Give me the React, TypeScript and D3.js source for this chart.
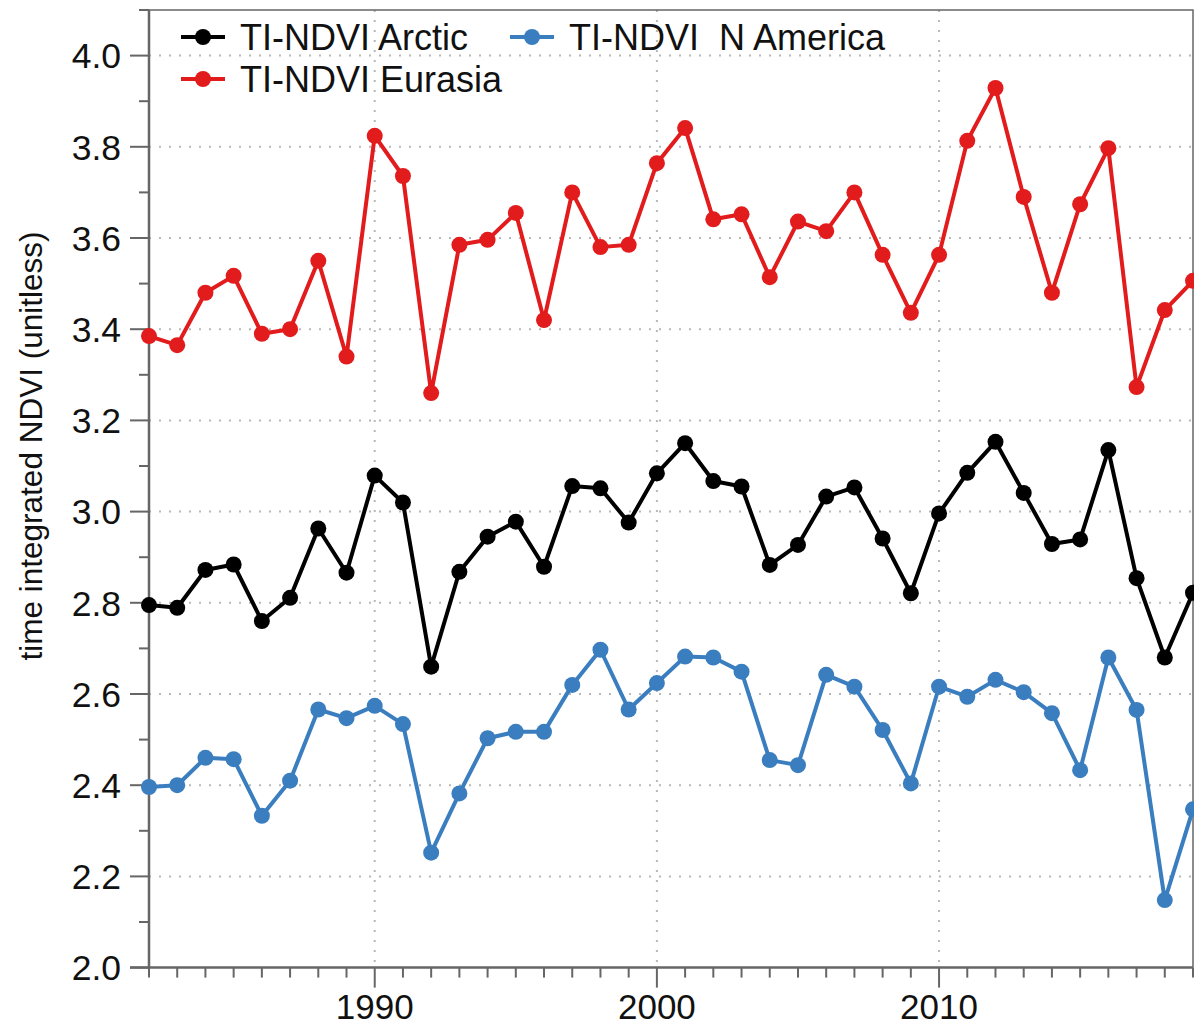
import React, { useEffect, useRef } from 'react';
import * as d3 from 'd3';

const years = d3.range(1982, 2020);

const arctic = [
  2.795, 2.789, 2.872, 2.884, 2.76, 2.811, 2.963, 2.866, 3.079, 3.02,
  2.66, 2.868, 2.945, 2.978, 2.879, 3.056, 3.051, 2.976, 3.084, 3.15,
  3.067, 3.055, 2.883, 2.927, 3.033, 3.053, 2.941, 2.821, 2.996, 3.085,
  3.153, 3.041, 2.929, 2.939, 3.135, 2.854, 2.68, 2.822,
];

const eurasia = [
  3.385, 3.365, 3.48, 3.517, 3.39, 3.4, 3.55, 3.34, 3.824, 3.736,
  3.26, 3.585, 3.596, 3.655, 3.42, 3.7, 3.58, 3.585, 3.764, 3.841,
  3.641, 3.652, 3.514, 3.636, 3.615, 3.7, 3.563, 3.436, 3.563, 3.813,
  3.929, 3.69, 3.48, 3.674, 3.797, 3.273, 3.442, 3.506,
];

const nAmerica = [
  2.396, 2.4, 2.46, 2.457, 2.333, 2.41, 2.566, 2.547, 2.574, 2.534,
  2.252, 2.382, 2.503, 2.517, 2.517, 2.62, 2.697, 2.566, 2.624, 2.682,
  2.68, 2.649, 2.455, 2.444, 2.642, 2.616, 2.521, 2.404, 2.616, 2.594,
  2.631, 2.604, 2.558, 2.433, 2.68, 2.565, 2.148, 2.347,
];

const series = [
  { name: 'TI-NDVI Arctic', values: arctic, color: '#000000' },
  { name: 'TI-NDVI  N America', values: nAmerica, color: '#3a7ebf' },
  { name: 'TI-NDVI Eurasia', values: eurasia, color: '#e21b1c' },
];

const yMajor = [2.0, 2.2, 2.4, 2.6, 2.8, 3.0, 3.2, 3.4, 3.6, 3.8, 4.0];
const yMinor = [2.1, 2.3, 2.5, 2.7, 2.9, 3.1, 3.3, 3.5, 3.7, 3.9, 4.1];
const xMajor = [1990, 2000, 2010];

const W = 1194;
const H = 1027;
const FONT = '"Liberation Sans", Arial, Helvetica, sans-serif';

const App: React.FC = () => {
  const ref = useRef<SVGSVGElement>(null);

  useEffect(() => {
    if (!ref.current) return;
    const svg = d3.select(ref.current);
    svg.selectAll('*').remove();

    const x = d3.scaleLinear().domain([1982, 2019]).range([149, 1193]);
    const y = d3.scaleLinear().domain([2.0, 4.1]).range([967.6, 10]);
    const axisColor = '#666';

    // grid
    const grid = svg.append('g');
    grid
      .selectAll('.hg')
      .data(yMajor.slice(1))
      .enter()
      .append('line')
      .attr('x1', x(1982))
      .attr('x2', x(2019))
      .attr('y1', (d) => y(d))
      .attr('y2', (d) => y(d))
      .attr('stroke', '#b8b8b8')
      .attr('stroke-width', 2)
      .attr('stroke-dasharray', '2,8');
    grid
      .selectAll('.vg')
      .data(xMajor)
      .enter()
      .append('line')
      .attr('x1', (d) => x(d))
      .attr('x2', (d) => x(d))
      .attr('y1', y(4.1))
      .attr('y2', y(2.0))
      .attr('stroke', '#b8b8b8')
      .attr('stroke-width', 2)
      .attr('stroke-dasharray', '2,8');

    // frame
    svg
      .append('path')
      .attr('d', `M${x(1982)},${y(4.1)}H${x(2019)}V${y(2.0)}`)
      .attr('fill', 'none')
      .attr('stroke', axisColor)
      .attr('stroke-width', 1.5);

    // y axis
    const yAxis = svg.append('g').attr('transform', `translate(${x(1982)},0)`);
    yAxis
      .append('line')
      .attr('y1', y(4.1))
      .attr('y2', y(2.0))
      .attr('stroke', axisColor)
      .attr('stroke-width', 2.5);
    yAxis
      .selectAll('.ymaj')
      .data(yMajor)
      .enter()
      .append('line')
      .attr('x1', -19)
      .attr('x2', 0)
      .attr('y1', (d) => y(d))
      .attr('y2', (d) => y(d))
      .attr('stroke', axisColor)
      .attr('stroke-width', 2);
    yAxis
      .selectAll('.ymin')
      .data(yMinor)
      .enter()
      .append('line')
      .attr('x1', -10)
      .attr('x2', 0)
      .attr('y1', (d) => y(d))
      .attr('y2', (d) => y(d))
      .attr('stroke', axisColor)
      .attr('stroke-width', 2);
    yAxis
      .selectAll('.ylab')
      .data(yMajor)
      .enter()
      .append('text')
      .attr('x', -28)
      .attr('y', (d) => y(d))
      .attr('dy', '0.36em')
      .attr('text-anchor', 'end')
      .attr('font-family', FONT)
      .attr('font-size', 35.5)
      .attr('fill', '#111')
      .text((d) => d.toFixed(1));

    // x axis
    const xAxis = svg.append('g').attr('transform', `translate(0,${y(2.0)})`);
    xAxis
      .append('line')
      .attr('x1', x(1982) - 19)
      .attr('x2', x(2019))
      .attr('stroke', axisColor)
      .attr('stroke-width', 2.5);
    xAxis
      .selectAll('.xt')
      .data(years)
      .enter()
      .append('line')
      .attr('x1', (d) => x(d))
      .attr('x2', (d) => x(d))
      .attr('y1', 0)
      .attr('y2', (d) => (xMajor.includes(d) ? 20 : 10))
      .attr('stroke', axisColor)
      .attr('stroke-width', 2);
    xAxis
      .selectAll('.xlab')
      .data(xMajor)
      .enter()
      .append('text')
      .attr('x', (d) => x(d))
      .attr('y', 51)
      .attr('text-anchor', 'middle')
      .attr('font-family', FONT)
      .attr('font-size', 35)
      .attr('fill', '#111')
      .text((d) => String(d));

    // y title
    svg
      .append('text')
      .attr('transform', `translate(42,${446}) rotate(-90)`)
      .attr('text-anchor', 'middle')
      .attr('font-family', FONT)
      .attr('font-size', 31.5)
      .attr('fill', '#111')
      .text('time integrated NDVI (unitless)');

    // series
    const line = d3
      .line<number>()
      .x((_, i) => x(years[i]))
      .y((d) => y(d));

    const order = [series[1], series[0], series[2]];
    order.forEach((s) => {
      const g = svg.append('g');
      g.append('path')
        .datum(s.values)
        .attr('fill', 'none')
        .attr('stroke', s.color)
        .attr('stroke-width', 4)
        .attr('stroke-linejoin', 'round')
        .attr('d', line);
      g.selectAll('circle')
        .data(s.values)
        .enter()
        .append('circle')
        .attr('cx', (_, i) => x(years[i]))
        .attr('cy', (d) => y(d))
        .attr('r', 8)
        .attr('fill', s.color);
    });

    // legend
    const legendItems = [
      { s: series[0], lx: 181, ty: 37 },
      { s: series[1], lx: 510, ty: 37 },
      { s: series[2], lx: 181, ty: 79 },
    ];
    legendItems.forEach(({ s, lx, ty }) => {
      const g = svg.append('g');
      g.append('line')
        .attr('x1', lx)
        .attr('x2', lx + 44)
        .attr('y1', ty)
        .attr('y2', ty)
        .attr('stroke', s.color)
        .attr('stroke-width', 4);
      g.append('circle')
        .attr('cx', lx + 22)
        .attr('cy', ty)
        .attr('r', 8)
        .attr('fill', s.color);
      g.append('text')
        .attr('x', lx + 59)
        .attr('y', ty)
        .attr('dy', '0.36em')
        .attr('font-family', FONT)
        .attr('font-size', 36)
        .attr('fill', '#111')
        .attr('xml:space', 'preserve')
        .style('white-space', 'pre')
        .text(s.name);
    });
  }, []);

  return (
    <svg
      ref={ref}
      width={W}
      height={H}
      style={{ position: 'absolute', left: 0, top: 0, background: '#fff' }}
    />
  );
};

export default App;
